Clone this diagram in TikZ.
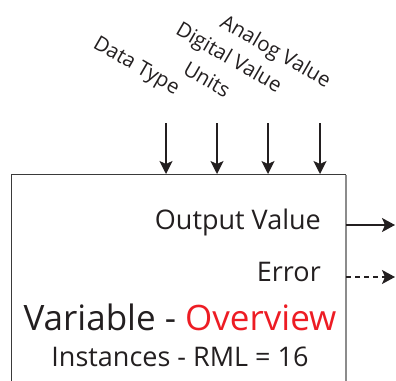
\documentclass[tikz,border=0pt]{standalone}
\usepackage{fontspec}
\setmainfont{Open Sans}
\usetikzlibrary{arrows.meta}
\definecolor{ink}{HTML}{231F20}
\definecolor{ovred}{HTML}{ED1C24}
\definecolor{boxdark}{HTML}{3A3A3A}
\definecolor{boxlight}{HTML}{8C8C8C}
\tikzset{
  inarrow/.style={draw=ink, line width=1.4pt, -{Stealth[length=13pt,width=13pt,inset=3pt]}},
  outarrow/.style={draw=ink, line width=1.4pt, -{Stealth[length=13pt,width=14pt,inset=3pt]}},
  toplabel/.style={rotate=-30, anchor=base east, inner sep=0pt, text=ink, font=\fontsize{20.5}{20.5}\selectfont},
  portlabel/.style={anchor=base east, inner sep=0pt, text=ink, font=\fontsize{27}{27}\selectfont},
}
\begin{document}
\begin{tikzpicture}[x=1pt,y=-1pt]
\useasboundingbox (0,0) rectangle (396,380);
% box (bottom edge outside the picture)
\draw[boxdark, line width=1.5pt] (11.5,390) -- (11.5,174.5) -- (346,174.5);
\draw[boxlight, line width=2pt] (346,174.5) -- (346,390);
% input labels
\node[toplabel] (ldt) at (175,95) {Data Type};
\node[toplabel] (lun) at (225,98) {Units};
\node[toplabel] (ldv) at (277,93) {Digital Value};
\node[toplabel] (lav) at (326,88) {Analog Value};
% input arrows
\coordinate (s1) at (166,123); \coordinate (e1) at (166,174);
\coordinate (s2) at (217,123); \coordinate (e2) at (217,174);
\coordinate (s3) at (268,123); \coordinate (e3) at (268,174);
\coordinate (s4) at (320,123); \coordinate (e4) at (320,174);
\draw[inarrow] (s1) -- (e1);
\draw[inarrow] (s2) -- (e2);
\draw[inarrow] (s3) -- (e3);
\draw[inarrow] (s4) -- (e4);
% outputs
\node[portlabel] (ov) at (321,229) {Output Value};
\node[portlabel] (er) at (321,281) {Error};
\coordinate (o1) at (346,225); \coordinate (o2) at (395,225);
\coordinate (d1) at (346,277); \coordinate (d2) at (395,277);
\draw[outarrow] (o1) -- (o2);
\draw[outarrow, dash pattern=on 5pt off 4pt] (d1) -- (d2);
% titles
\node[anchor=base, inner sep=0pt, text=ink, font=\fontsize{35}{35}\selectfont] (title) at (180,330) {Variable - \textcolor{ovred}{Overview}};
\node[anchor=base, inner sep=0pt, text=ink, font=\fontsize{27}{27}\selectfont] (inst) at (180,366) {Instances - RML = 16};
\end{tikzpicture}
\end{document}
